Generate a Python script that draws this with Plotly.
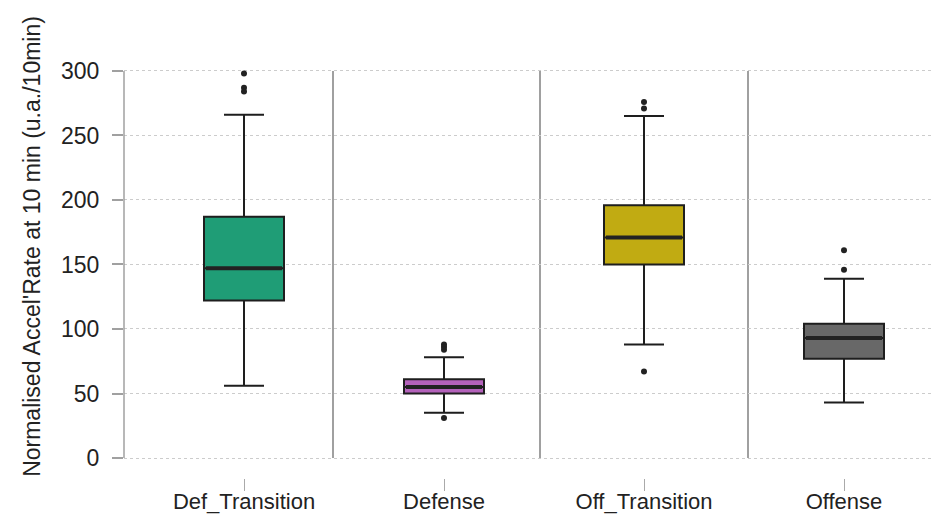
import plotly.graph_objects as go

categories = ["Def_Transition", "Defense", "Off_Transition", "Offense"]
q1 = [122, 50, 150, 77]
median = [147, 55, 171, 93]
q3 = [187, 61, 196, 104]
lower_whisker = [56, 35, 88, 43]
upper_whisker = [266, 78, 265, 139]
outliers = [[298, 287, 284], [88, 86, 84, 31], [276, 271, 67], [161, 146]]
colors = ["#1f9d76", "#b462bb", "#c1ab12", "#686868"]
y_ticks = [0, 50, 100, 150, 200, 250, 300]
separators = [0.445, 1.48, 2.52]

FONT = "Liberation Sans, Arial, sans-serif"
box_width = 0.4

fig = go.Figure()
for i, cat in enumerate(categories):
    fig.add_trace(go.Box(
        x=[i], q1=[q1[i]], median=[median[i]], q3=[q3[i]],
        lowerfence=[lower_whisker[i]], upperfence=[upper_whisker[i]],
        width=box_width, whiskerwidth=0.5,
        fillcolor=colors[i], line=dict(color="#1e1e1e", width=2),
        boxpoints=False, showlegend=False, hoverinfo="skip",
    ))
    fig.add_trace(go.Scatter(
        x=[i - box_width / 2 + 0.01, i + box_width / 2 - 0.01],
        y=[median[i], median[i]], mode="lines",
        line=dict(color="#222222", width=4), showlegend=False, hoverinfo="skip",
    ))
    fig.add_trace(go.Scatter(
        x=[i] * len(outliers[i]), y=outliers[i], mode="markers",
        marker=dict(color="#222222", size=6), showlegend=False, hoverinfo="skip",
    ))

for s in separators:
    fig.add_shape(type="line", xref="x", yref="y", x0=s, x1=s, y0=0, y1=300,
                  line=dict(color="#a0a0a0", width=2), layer="below")
fig.add_shape(type="line", xref="paper", yref="y", x0=0, x1=0, y0=0, y1=300,
              line=dict(color="#a0a0a0", width=1.5))

fig.add_annotation(text="Normalised Accel'Rate at 10 min (u.a./10min)",
                   xref="paper", yref="paper", x=-0.113, y=0.553,
                   xanchor="center", yanchor="middle",
                   textangle=-90, showarrow=False,
                   font=dict(family=FONT, size=23, color="#222222"))

fig.update_layout(
    template="none",
    width=932, height=508,
    margin=dict(l=116, r=2, t=52, b=38),
    paper_bgcolor="white", plot_bgcolor="white",
    font=dict(family=FONT, size=23, color="#222222"),
    xaxis=dict(range=[-0.6, 3.47], tickmode="array", automargin=False,
               tickvals=list(range(len(categories))), ticktext=categories,
               ticks="outside", ticklen=12, tickwidth=1.2, tickcolor="#aaaaaa",
               showgrid=False, zeroline=False, showline=False,
               ticklabelstandoff=-8,
               tickfont=dict(size=22)),
    yaxis=dict(range=[-15.5, 308.5], tickmode="array", tickvals=y_ticks,
               automargin=False,
               ticks="outside", ticklen=11, tickwidth=1.5, tickcolor="#a0a0a0",
               showgrid=True, gridcolor="#cccccc", griddash="dot", gridwidth=1,
               zeroline=False, showline=False, ticklabelstandoff=8,
               tickfont=dict(size=23)),
)

fig.write_html("out.html")
